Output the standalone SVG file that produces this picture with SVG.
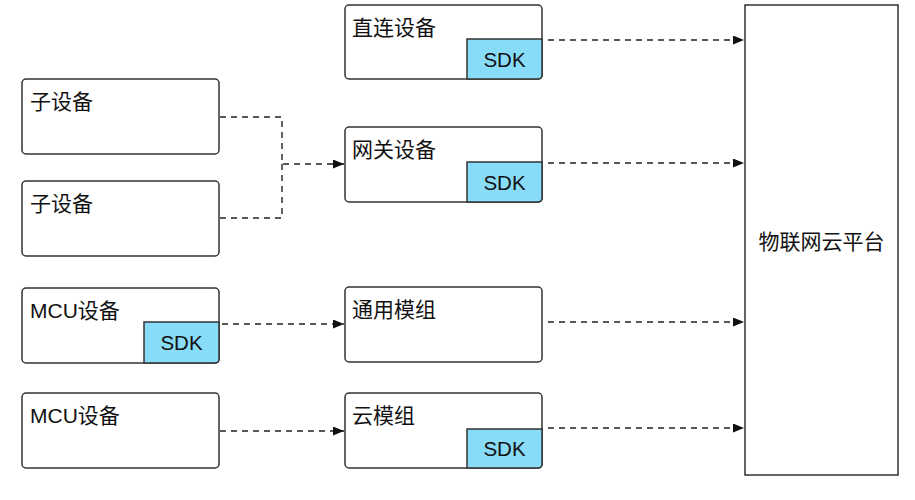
<svg xmlns="http://www.w3.org/2000/svg" width="915" height="500" viewBox="0 0 915 500">
<defs>
<style>
.box{fill:#fff;stroke:#333;stroke-width:1.5}
.sdk{fill:#89dcf8;stroke:#333;stroke-width:1.5}
.lbl{font-family:"Liberation Sans","Noto Sans CJK SC",sans-serif;font-size:21px;fill:#111}
.sdkt{font-family:"Liberation Sans",Arial,sans-serif;font-size:20.5px;fill:#111;text-anchor:middle}
.conn{fill:none;stroke:#222;stroke-width:1.4;stroke-dasharray:6 5}
</style>
<marker id="arr" markerUnits="userSpaceOnUse" markerWidth="12" markerHeight="10" refX="11" refY="4.5" orient="auto">
<path d="M0,0 L11,4.5 L0,9 z" fill="#111"/>
</marker>
</defs>
<rect width="915" height="500" fill="#fff"/>

<g id="platform">
<rect x="745" y="5" width="153" height="470" fill="#fff" stroke="#333" stroke-width="1.5"/>
<text class="lbl" x="821.5" y="249" text-anchor="middle">物联网云平台</text>
</g>

<g id="direct-device">
<rect class="box" x="345" y="5" width="197" height="74" rx="4"/>
<text class="lbl" x="352" y="35">直连设备</text>
<path class="sdk" d="M467,39 H542 V75 Q542,79 538,79 H467 Z"/>
<text class="sdkt" x="504.5" y="67">SDK</text>
</g>

<g id="gateway">
<rect class="box" x="345" y="127" width="197" height="75" rx="4"/>
<text class="lbl" x="352" y="157">网关设备</text>
<path class="sdk" d="M467,162 H542 V198 Q542,202 538,202 H467 Z"/>
<text class="sdkt" x="504.5" y="190">SDK</text>
</g>

<g id="sub-device-1">
<rect class="box" x="22" y="79" width="197" height="75" rx="4"/>
<text class="lbl" x="30" y="109">子设备</text>
</g>

<g id="sub-device-2">
<rect class="box" x="22" y="181" width="197" height="75" rx="4"/>
<text class="lbl" x="30" y="211">子设备</text>
</g>

<g id="mcu-1">
<rect class="box" x="22" y="288" width="197" height="75" rx="4"/>
<text class="lbl" x="30" y="318">MCU设备</text>
<path class="sdk" d="M144,322 H219 V359 Q219,363 215,363 H144 Z"/>
<text class="sdkt" x="181.5" y="350">SDK</text>
</g>

<g id="mcu-2">
<rect class="box" x="22" y="393" width="197" height="75" rx="4"/>
<text class="lbl" x="30" y="423">MCU设备</text>
</g>

<g id="generic-module">
<rect class="box" x="345" y="287" width="197" height="75" rx="4"/>
<text class="lbl" x="352" y="317">通用模组</text>
</g>

<g id="cloud-module">
<rect class="box" x="345" y="393" width="197" height="75" rx="4"/>
<text class="lbl" x="352" y="423">云模组</text>
<path class="sdk" d="M467,429 H542 V464 Q542,468 538,468 H467 Z"/>
<text class="sdkt" x="504.5" y="456">SDK</text>
</g>

<g id="connectors">
<path class="conn" d="M548,40 H744" marker-end="url(#arr)"/>
<path class="conn" d="M548,163 H744" marker-end="url(#arr)"/>
<path class="conn" d="M548,322 H744" marker-end="url(#arr)"/>
<path class="conn" d="M548,428 H744" marker-end="url(#arr)"/>
<path class="conn" d="M222,324 H344" marker-end="url(#arr)"/>
<path class="conn" d="M220,431 H344" marker-end="url(#arr)"/>
<path class="conn" d="M220,117 H282 V164 H344" marker-end="url(#arr)"/>
<path class="conn" d="M220,218 H282 V164"/>
</g>
</svg>
